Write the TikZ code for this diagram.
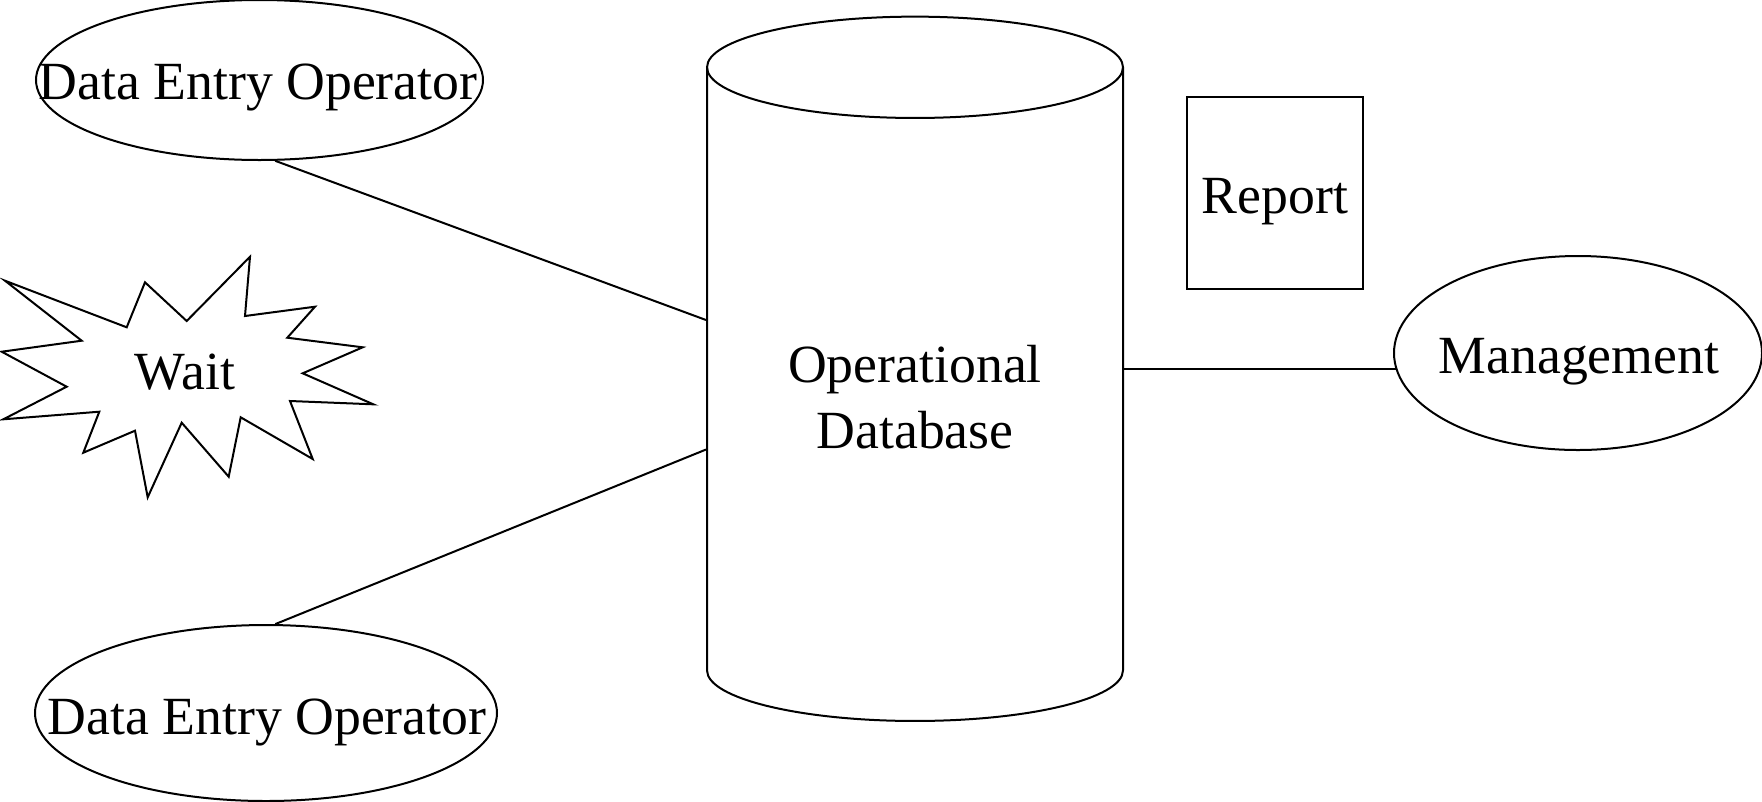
\documentclass[tikz,border=0pt]{standalone}
\usepackage{fontspec}
\setmainfont{Liberation Serif}
\usetikzlibrary{shapes.geometric}
\newcommand{\ctrtext}[1]{\makebox[0pt]{#1}}
\begin{document}
\begin{tikzpicture}[x=0.75pt,y=-0.75pt,
  line width=1.5pt, line join=miter,
  every node/.style={font=\fontsize{40.3}{49}\selectfont, inner sep=0pt},
  actor/.style={ellipse, draw},
  doc/.style={rectangle, draw},
  link/.style={draw}]
\useasboundingbox (0,0) rectangle (1762,801);

% external actors
\node[actor, minimum width=335.25pt, minimum height=120pt] (op1) at (259.5,80) {};
\node (op1t) at (258,88) {\ctrtext{Data Entry Operator}};
\node[actor, minimum width=346.5pt, minimum height=132pt] (op2) at (266,713) {};
\node (op2t) at (267,722) {\ctrtext{Data Entry Operator}};
\node[actor, minimum width=276pt, minimum height=145.5pt] (mg) at (1578,353) {};
\node (mgt) at (1579,362) {\ctrtext{Management}};

% report sheet
\node[doc, minimum width=132.3pt, minimum height=144.2pt] (rep) at (1274.8,192.7) {};
\node (rept) at (1274.8,202) {Report};

% wait burst
\draw (5,280.7) -- (126.7,327.3) -- (145,282.3) -- (186.7,321) -- (250,256.7)
  -- (245,316) -- (315,306.7) -- (287.3,337.7) -- (362.7,347.3) -- (302.7,373.3)
  -- (373.3,404.3) -- (290,401) -- (312.7,459) -- (240.7,417.3) -- (228.7,476.7)
  -- (181.7,422.7) -- (147.7,497.3) -- (135,430.7) -- (83.3,452.7) -- (99.3,411.7)
  -- (3.3,419.3) -- (66.7,386.7) -- (1.7,351.7) -- (81.7,340.7) -- cycle;
\node (wait) at (185,372) {Wait};

% database cylinder
\node[minimum width=312pt, minimum height=528pt] (db) at (915,369) {};
\draw (707,67.3) -- (707,670.3) arc[start angle=180, end angle=360, x radius=156pt, y radius=38pt] -- (1123,67.3);
\draw (915,67.3) ellipse [x radius=156pt, y radius=38pt];
\node[align=center] (dbtext) at (915,397) {Operational\\Database};

% connectors
\draw[link] (op1.-79.7) -- ([yshift=36.75pt]db.west);
\draw[link] (op2.84.8) -- ([yshift=-60.4pt]db.west);
\draw[link] (db.east |- mg.185.5) -- (mg.185.5);
\end{tikzpicture}
\end{document}
